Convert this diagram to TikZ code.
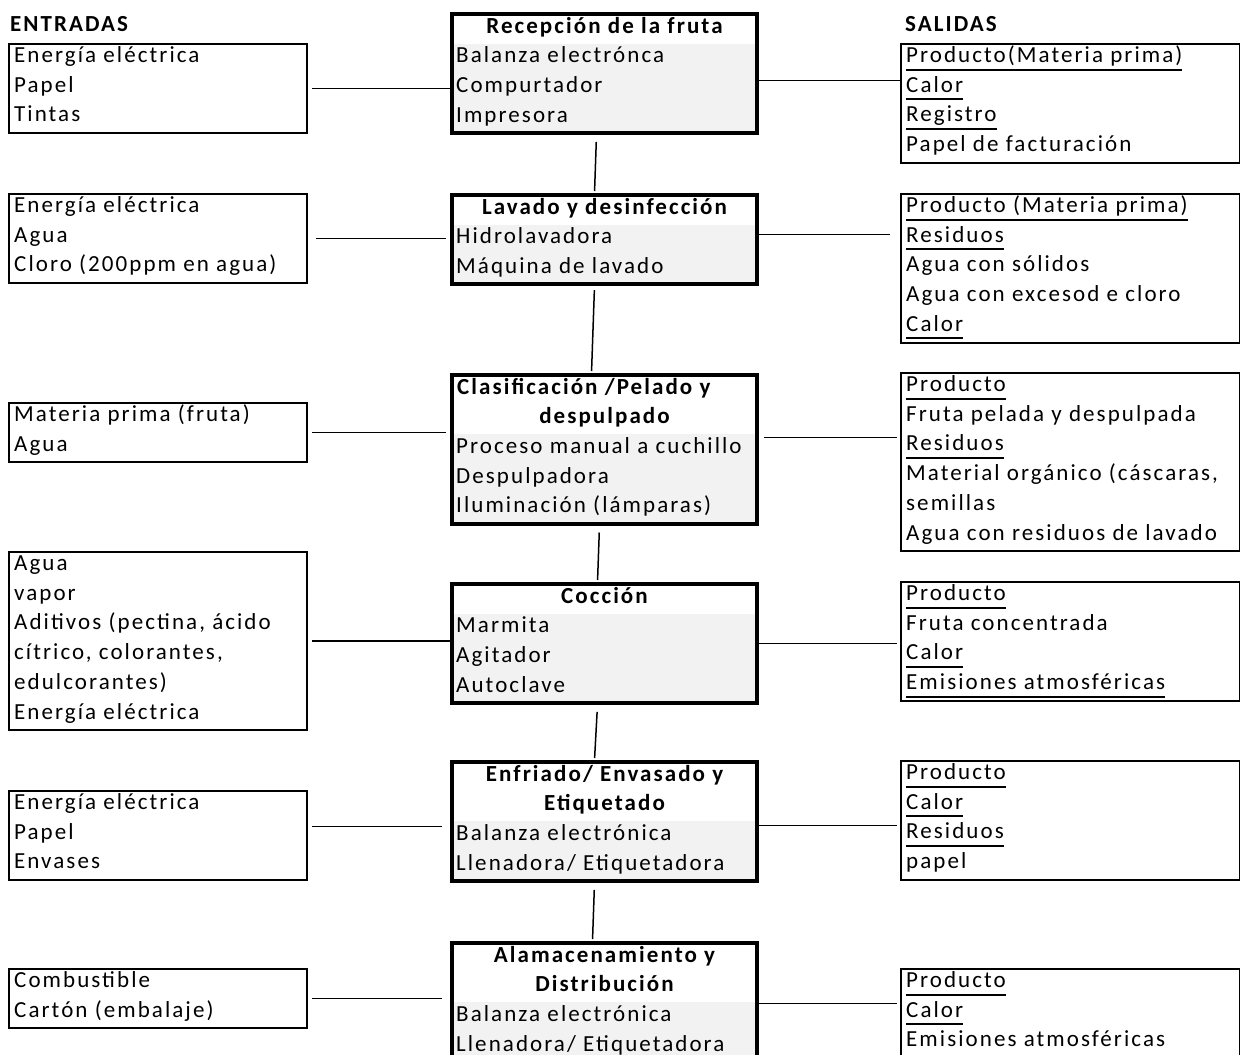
\documentclass[tikz,border=0pt]{standalone}
\usepackage{fontspec}
\setmainfont{Carlito}[LetterSpace=9]
\usetikzlibrary{calc}
\definecolor{cellgray}{HTML}{F2F2F2}
\newcommand\ulword[1]{\setbox0\hbox{#1}\rlap{\rule[-8pt]{\wd0}{2pt}}\box0}
\tikzset{
  sidebox/.style={draw, line width=2pt, inner sep=0pt, anchor=north west},
  stepbox/.style={draw, line width=4pt, inner sep=0pt, anchor=north west, minimum width=305pt,
    path picture={\fill [cellgray] ([yshift=-#1*29.7pt]path picture bounding box.north west)
      rectangle (path picture bounding box.south east);}},
  txt/.style={anchor=base west, inner sep=0pt, font=\fontsize{23}{29.7}\selectfont},
  ttl/.style={anchor=base, inner sep=0pt, font=\fontsize{23}{29.7}\selectfont\bfseries},
  hdr/.style={anchor=base west, inner sep=0pt, font=\fontsize{23}{29.7}\selectfont\bfseries},
  link/.style={line width=1.5pt}
}
\begin{document}
\begin{tikzpicture}[x=1pt,y=-1pt]
  \useasboundingbox (0,0) rectangle (1240,1055);
  \clip (0,0) rectangle (1240,1055);

  % Marking headers
  \node [hdr] (entradas) at (10,31) {ENTRADAS};
  \node [hdr] (salidas) at (905,31) {SALIDAS};

  % Drawing box entradas 1..6
  \node [sidebox, minimum width=298pt, minimum height=89.1pt] (ent1) at (8,43) {};
  \foreach \t [count=\i] in {Energía eléctrica, Papel, Tintas}
    \node [txt] (ent1-\i) at ($(ent1.north west)+(6,19.5+29.7*\i-29.7)$) {\t};
  \node [sidebox, minimum width=298pt, minimum height=89.1pt] (ent2) at (8,193) {};
  \foreach \t [count=\i] in {Energía eléctrica, Agua, Cloro (200ppm en agua)}
    \node [txt] (ent2-\i) at ($(ent2.north west)+(6,19.5+29.7*\i-29.7)$) {\t};
  \node [sidebox, minimum width=298pt, minimum height=59.4pt] (ent3) at (8,402) {};
  \foreach \t [count=\i] in {Materia prima (fruta), Agua}
    \node [txt] (ent3-\i) at ($(ent3.north west)+(6,19.5+29.7*\i-29.7)$) {\t};
  \node [sidebox, minimum width=298pt, minimum height=178.2pt] (ent4) at (8,551) {};
  \foreach \t [count=\i] in {Agua, vapor, {Aditivos (pectina, ácido}, {cítrico, colorantes,}, edulcorantes), Energía eléctrica}
    \node [txt] (ent4-\i) at ($(ent4.north west)+(6,19.5+29.7*\i-29.7)$) {\t};
  \node [sidebox, minimum width=298pt, minimum height=89.1pt] (ent5) at (8,790) {};
  \foreach \t [count=\i] in {Energía eléctrica, Papel, Envases}
    \node [txt] (ent5-\i) at ($(ent5.north west)+(6,19.5+29.7*\i-29.7)$) {\t};
  \node [sidebox, minimum width=298pt, minimum height=59.4pt] (ent6) at (8,968) {};
  \foreach \t [count=\i] in {Combustible, Cartón (embalaje)}
    \node [txt] (ent6-\i) at ($(ent6.north west)+(6,19.5+29.7*\i-29.7)$) {\t};

  % Drawing box etapas (centre column)
  \node [stepbox=1, minimum height=118.8pt] (rec) at (450,12) {};
  \node [ttl] (rec-t) at ($(rec.north)+(0,21)$) {Recepción de la fruta};
  \foreach \t [count=\i] in {Balanza electrónca, Compurtador, Impresora}
    \node [txt] (rec-\i) at ($(rec.north west)+(6,21+29.7*\i)$) {\t};

  \node [stepbox=1, minimum height=89.1pt] (lav) at (450,193) {};
  \node [ttl] (lav-t) at ($(lav.north)+(0,21)$) {Lavado y desinfección};
  \foreach \t [count=\i] in {Hidrolavadora, Máquina de lavado}
    \node [txt] (lav-\i) at ($(lav.north west)+(6,21+29.7*\i)$) {\t};

  \node [stepbox=2, minimum height=148.5pt] (cla) at (450,373) {};
  \node [ttl, anchor=base west] (cla-t1) at ($(cla.north west)+(7,21)$) {Clasificación /Pelado y};
  \node [ttl] (cla-t2) at ($(cla.north)+(0,50.7)$) {despulpado};
  \foreach \t [count=\i] in {Proceso manual a cuchillo, Despulpadora, Iluminación (lámparas)}
    \node [txt] (cla-\i) at ($(cla.north west)+(6,50.7+29.7*\i)$) {\t};

  \node [stepbox=1, minimum height=118.8pt] (coc) at (450,582) {};
  \node [ttl] (coc-t) at ($(coc.north)+(0,21)$) {Cocción};
  \foreach \t [count=\i] in {Marmita, Agitador, Autoclave}
    \node [txt] (coc-\i) at ($(coc.north west)+(6,21+29.7*\i)$) {\t};

  \node [stepbox=2, minimum height=118.8pt] (enf) at (450,760) {};
  \node [ttl] (enf-t1) at ($(enf.north)+(0,21)$) {Enfriado/ Envasado y};
  \node [ttl] (enf-t2) at ($(enf.north)+(0,50.7)$) {Etiquetado};
  \foreach \t [count=\i] in {Balanza electrónica, Llenadora/ Etiquetadora}
    \node [txt] (enf-\i) at ($(enf.north west)+(6,50.7+29.7*\i)$) {\t};

  \node [stepbox=2, minimum height=118.8pt] (alm) at (450,941) {};
  \node [ttl] (alm-t1) at ($(alm.north)+(0,21)$) {Alamacenamiento y};
  \node [ttl] (alm-t2) at ($(alm.north)+(0,50.7)$) {Distribución};
  \foreach \t [count=\i] in {Balanza electrónica, Llenadora/ Etiquetadora}
    \node [txt] (alm-\i) at ($(alm.north west)+(6,50.7+29.7*\i)$) {\t};

  % Drawing box salidas 1..6
  \node [sidebox, minimum width=339pt, minimum height=118.8pt] (sal1) at (900,43) {};
  \foreach \t [count=\i] in {\ulword{Producto(Materia prima)}, \ulword{Calor}, \ulword{Registro}, Papel de facturación}
    \node [txt] (sal1-\i) at ($(sal1.north west)+(6,19.5+29.7*\i-29.7)$) {\t};
  \node [sidebox, minimum width=339pt, minimum height=148.5pt] (sal2) at (900,193) {};
  \foreach \t [count=\i] in {\ulword{Producto (Materia prima)}, \ulword{Residuos}, Agua con sólidos, Agua con excesod e cloro, \ulword{Calor}}
    \node [txt] (sal2-\i) at ($(sal2.north west)+(6,19.5+29.7*\i-29.7)$) {\t};
  \node [sidebox, minimum width=339pt, minimum height=178.2pt] (sal3) at (900,372) {};
  \foreach \t [count=\i] in {\ulword{Producto}, Fruta pelada y despulpada, \ulword{Residuos}, {Material orgánico (cáscaras,}, semillas, Agua con residuos de lavado}
    \node [txt] (sal3-\i) at ($(sal3.north west)+(6,19.5+29.7*\i-29.7)$) {\t};
  \node [sidebox, minimum width=339pt, minimum height=118.8pt] (sal4) at (900,581) {};
  \foreach \t [count=\i] in {\ulword{Producto}, Fruta concentrada, \ulword{Calor}, \ulword{Emisiones atmosféricas}}
    \node [txt] (sal4-\i) at ($(sal4.north west)+(6,19.5+29.7*\i-29.7)$) {\t};
  \node [sidebox, minimum width=339pt, minimum height=118.8pt] (sal5) at (900,760) {};
  \foreach \t [count=\i] in {\ulword{Producto}, \ulword{Calor}, \ulword{Residuos}, papel}
    \node [txt] (sal5-\i) at ($(sal5.north west)+(6,19.5+29.7*\i-29.7)$) {\t};
  \node [sidebox, minimum width=339pt, minimum height=118.8pt] (sal6) at (900,968) {};
  \foreach \t [count=\i] in {\ulword{Producto}, \ulword{Calor}, Emisiones atmosféricas}
    \node [txt] (sal6-\i) at ($(sal6.north west)+(6,19.5+29.7*\i-29.7)$) {\t};

  % Drawing segments etapa -- etapa
  \draw [link, shorten <=7pt, shorten >=2pt] ([xshift=-8pt]rec.south) -- ([xshift=-10pt]lav.north);
  \draw [link, shorten <=4pt, shorten >=2pt] ([xshift=-10pt]lav.south) -- ([xshift=-13pt]cla.north);
  \draw [link, shorten <=7pt, shorten >=2pt] ([xshift=-5pt]cla.south) -- ([xshift=-7pt]coc.north);
  \draw [link, shorten <=7pt, shorten >=2pt] ([xshift=-7pt]coc.south) -- ([xshift=-10pt]enf.north);
  \draw [link, shorten <=7pt, shorten >=2pt] ([xshift=-10pt]enf.south) -- ([xshift=-12pt]alm.north);

  % Drawing segments entradas -- etapa
  \coordinate (in1) at (ent1.east);
  \coordinate (in2) at (ent2.east);
  \coordinate (in3) at (ent3.east);
  \coordinate (in4) at (ent4.east);
  \coordinate (in5) at ($(ent5.east)+(0,-9)$);
  \coordinate (in6) at (ent6.east);
  \draw [link, shorten <=4pt] (in1) -- (in1 -| rec.west);
  \draw [link, shorten <=8pt, shorten >=4pt] (in2) -- (in2 -| lav.west);
  \draw [link, shorten <=4pt, shorten >=4pt] (in3) -- (in3 -| cla.west);
  \draw [link, shorten <=4pt] (in4) -- (in4 -| coc.west);
  \draw [link, shorten <=4pt, shorten >=8pt] (in5) -- (in5 -| enf.west);
  \draw [link, shorten <=4pt, shorten >=8pt] (in6) -- (in6 -| alm.west);

  % Drawing segments etapa -- salidas
  \coordinate (out1) at ($(rec.east)+(0,7)$);
  \coordinate (out2) at ($(lav.east)+(0,-5)$);
  \coordinate (out3) at ($(cla.east)+(0,-12)$);
  \coordinate (out4) at (coc.east);
  \coordinate (out5) at ($(enf.east)+(0,4)$);
  \coordinate (out6) at ($(alm.east)+(0,1)$);
  \draw [link] (out1) -- (out1 -| sal1.west);
  \draw [link, shorten >=10pt] (out2) -- (out2 -| sal2.west);
  \draw [link, shorten <=5pt, shorten >=3pt] (out3) -- (out3 -| sal3.west);
  \draw [link, shorten >=3pt] (out4) -- (out4 -| sal4.west);
  \draw [link, shorten >=3pt] (out5) -- (out5 -| sal5.west);
  \draw [link, shorten >=3pt] (out6) -- (out6 -| sal6.west);
\end{tikzpicture}
\end{document}
